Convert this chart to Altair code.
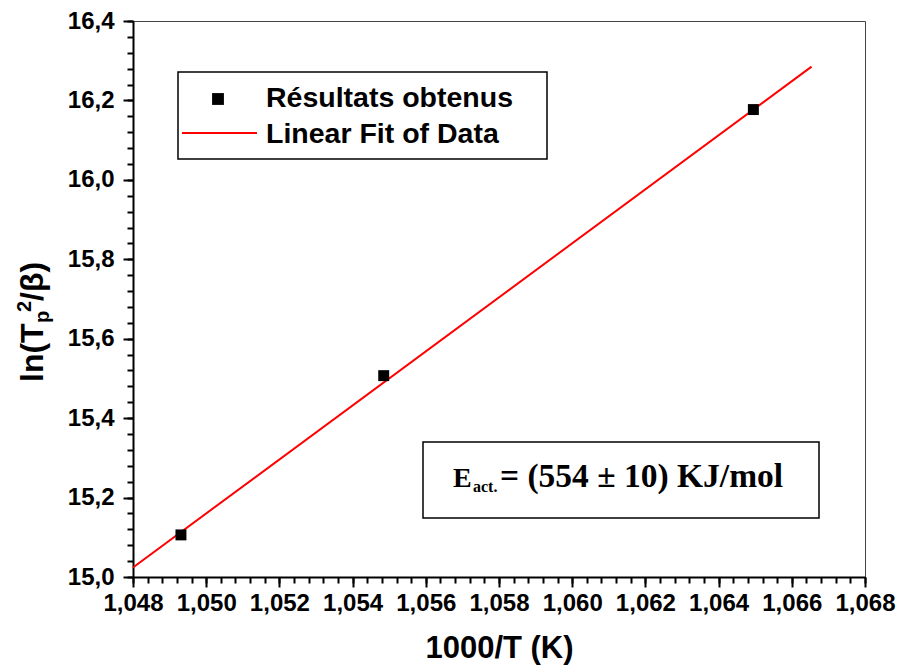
import altair as alt
import pandas as pd

# Measured points: 1000/T (K) against ln(Tp^2/beta)
inv_temp = [1.04931, 1.05485, 1.06495]
ln_ratio = [15.106, 15.507, 16.177]

# End points of the linear fit
fit_x = [1.048, 1.06654]
fit_y = [15.024, 16.285]

# Tick positions
x_major = [round(1.048 + 0.002 * i, 3) for i in range(11)]
x_minor = [round(1.048 + 0.0004 * i, 4) for i in range(51)]
y_major = [round(15.0 + 0.2 * i, 1) for i in range(8)]
y_minor = [round(15.0 + 0.04 * i, 2) for i in range(36)]

legend_labels = ["Résultats obtenus", "Linear Fit of Data"]

SANS = "Liberation Sans"
SERIF = "Liberation Serif"

xs = alt.Scale(domain=[1.048, 1.068], nice=False, zero=False)
ys = alt.Scale(domain=[15.0, 16.4], nice=False, zero=False)

axis_common = dict(
    grid=False, domainColor="black", domainWidth=2, tickColor="black", tickWidth=2,
    labelFont=SANS, labelFontWeight="bold", labelColor="black", labelFontSize=24,
    labelOverlap=False, labelFlush=False, labelBound=False,
)

x_axis_major = alt.Axis(
    orient="bottom", values=x_major, tickSize=10, labelPadding=4,
    labelExpr="replace(format(datum.value, '.3f'), '.', ',')",
    title="1000/T (K)", titleFont=SANS, titleFontWeight="bold", titleFontSize=31,
    titleColor="black", titlePadding=18, **axis_common,
)
y_axis_major = alt.Axis(
    orient="left", values=y_major, tickSize=10, labelPadding=9,
    labelExpr="replace(format(datum.value, '.1f'), '.', ',')",
    title=None, **axis_common,
)
x_axis_minor = alt.Axis(
    orient="bottom", values=x_minor, tickSize=6, tickWidth=2, tickColor="black",
    labels=False, domain=False, grid=False, title=None,
)
y_axis_minor = alt.Axis(
    orient="left", values=y_minor, tickSize=6, tickWidth=2, tickColor="black",
    labels=False, domain=False, grid=False, title=None,
)

pts = pd.DataFrame({"x": inv_temp, "y": ln_ratio})
fit = pd.DataFrame({"x": fit_x, "y": fit_y})

fit_line = alt.Chart(fit).mark_line(color="#ff0000", strokeWidth=2).encode(
    x=alt.X("x:Q", scale=xs, axis=x_axis_minor),
    y=alt.Y("y:Q", scale=ys, axis=y_axis_minor),
)
points = alt.Chart(pts).mark_square(size=120, color="black", opacity=1).encode(
    x=alt.X("x:Q", scale=xs, axis=x_axis_major),
    y=alt.Y("y:Q", scale=ys, axis=y_axis_major),
)


def one(text):
    return pd.DataFrame({"t": [text]})


def label(text, x, y, size, font=SANS, angle=0):
    return alt.Chart(one(text)).mark_text(
        font=font, fontWeight="bold", fontSize=size, color="black",
        align="left", baseline="alphabetic", angle=angle,
    ).encode(x=alt.value(x), y=alt.value(y), text="t:N")


# Legend frame and entries
legend_box = alt.Chart(one("box")).mark_rect(
    fill="white", stroke="black", strokeWidth=1.5
).encode(x=alt.value(45), x2=alt.value(414), y=alt.value(51), y2=alt.value(138))
legend_sq = alt.Chart(one("sq")).mark_square(size=140, color="black", opacity=1).encode(
    x=alt.value(85), y=alt.value(78)
)
legend_ln = alt.Chart(one("ln")).mark_rule(color="#ff0000", strokeWidth=2).encode(
    x=alt.value(49), x2=alt.value(124), y=alt.value(112)
)
legend_t1 = label(legend_labels[0], 133, 86, 28.5)
legend_t2 = label(legend_labels[1], 133, 122, 28.5)

# Activation energy box
ea_box = alt.Chart(one("box")).mark_rect(
    fill="white", stroke="black", strokeWidth=1.5
).encode(x=alt.value(290), x2=alt.value(686), y=alt.value(421), y2=alt.value(497))
ea_e = label("E", 320, 466, 28, font=SERIF)
ea_sub = label("act.", 340, 471, 16, font=SERIF)
ea_rest = label("= (554 \u00b1 10) KJ/mol", 367, 466, 33.5, font=SERIF)

# Y axis title ln(Tp^2/beta), built from rotated pieces
yt1 = label("ln(T", -90, 382 - 21, 32, angle=270)
yt2 = label("p", -84, 323 - 21, 20, angle=270)
yt3 = label("2", -102, 312 - 21, 20, angle=270)
yt4 = label("/\u03b2)", -90, 301 - 21, 32, angle=270)

chart = alt.layer(
    fit_line, points,
    legend_box, legend_sq, legend_ln, legend_t1, legend_t2,
    ea_box, ea_e, ea_sub, ea_rest,
    yt1, yt2, yt3, yt4,
).resolve_axis(x="independent", y="independent").properties(
    width=732, height=556,
    autosize=alt.AutoSizeParams(type="none"),
    padding={"left": 133, "top": 21, "right": 34, "bottom": 95},
    background="white",
).configure_view(stroke="#444444", strokeWidth=1)

chart.save("out.html", embed_options={"renderer": "svg", "actions": False})
